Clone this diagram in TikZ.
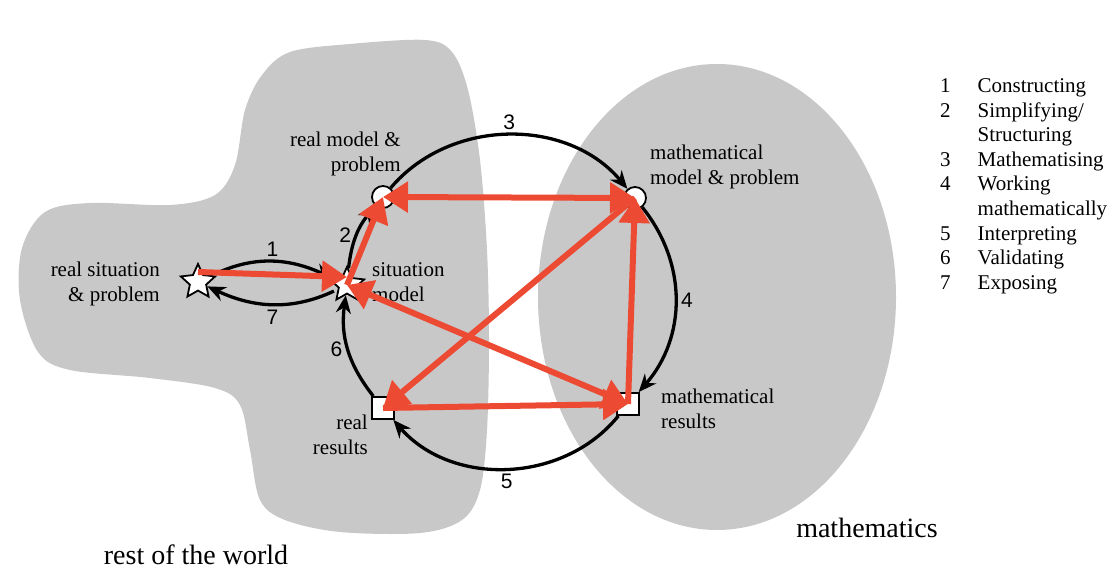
\documentclass[tikz,border=0pt]{standalone}
\usepackage{fontspec}
\setmainfont{Liberation Serif}
\newfontfamily\numfont{Liberation Sans}
\usepackage{tikz}
\usetikzlibrary{arrows.meta,positioning,shapes.geometric}
\definecolor{worldgray}{RGB}{200,200,200}
\definecolor{modelred}{RGB}{237,74,52}

\begin{document}
\begin{tikzpicture}[
            x=1pt, y=1pt,
            realstar/.style={
                star,
                star points=5,
                star point ratio=2.1,
                draw,
                fill=white,
                line width=1.8pt,
                minimum size=36pt,
                inner sep=0pt
            },
            modelcirc/.style={
                circle,
                draw,
                fill=white,
                line width=1.8pt,
                minimum size=22pt,
                inner sep=0pt
            },
            resultbox/.style={
                rectangle,
                draw,
                fill=white,
                line width=1.8pt,
                minimum size=22pt,
                inner sep=0pt
            },
            stagelabel/.style={
                font=\fontsize{21}{24.6}\selectfont,
                inner sep=0pt
            },
            worldlabel/.style={
                font=\fontsize{28}{32}\selectfont,
                inner sep=0pt
            },
            cyclearrow/.style={
                -{Stealth[length=18pt,width=15pt]},
                line width=3.3pt
            },
            steplabel/.style={
                font=\numfont\fontsize{21}{24}\selectfont,
                inner sep=4pt
            },
            redarrow/.style={
                draw=modelred,
                line width=6pt
            },
            redhead/.style={
                -{Triangle[length=25pt,width=30pt]}
            },
            redboth/.style={
                {Triangle[length=25pt,width=30pt]}-{Triangle[length=25pt,width=30pt]}
            }
            ]

            \useasboundingbox (0,0) rectangle (1114,569);

            % the two worlds
            \fill[worldgray] plot[smooth cycle, tension=0.55] coordinates {
                (262,494) (290,517) (350,525) (425,529) (452,517) (468,479)
                (480,409) (487,319) (489,229) (487,139) (480,79) (462,49)
                (420,36) (340,37) (285,49) (260,69) (250,119) (240,164)
                (215,181) (150,191) (70,199) (38,217) (20,269) (22,321)
                (45,357) (90,366) (170,364) (215,374) (235,404) (245,459)};
            \fill[worldgray] (717,272) ellipse[x radius=179pt, y radius=233pt];

            % stages
            \node[realstar] (realsit) at (198,287) {};
            \node[realstar] (sitmodel) at (347,284) {};
            \node[modelcirc] (realmodel) at (383,372) {};
            \node[modelcirc] (mathmodel) at (635,371) {};
            \node[resultbox] (realres) at (383,161) {};
            \node[resultbox] (mathres) at (628,165) {};

            \node[stagelabel, anchor=east, align=right] (realsitlbl) at (160,285)
            {real situation\\\& problem};
            \node[stagelabel, anchor=east, align=right] (realmodellbl) at (401,415)
            {real model \&\\problem};
            \node[stagelabel, anchor=west, align=left] (sitmodellbl) at (372,287)
            {situation\\model};
            \node[stagelabel, anchor=east, align=right] (realreslbl) at (368,134)
            {real\\results};
            \node[stagelabel, anchor=west, align=left] (mathmodellbl) at (650,402)
            {mathematical\\model \& problem};
            \node[stagelabel, anchor=west, align=left] (mathreslbl) at (661,160)
            {mathematical\\results};

            \node[worldlabel, anchor=base] (worldlbl) at (196,4) {rest of the world};
            \node[worldlabel, anchor=base] (mathslbl) at (867,31) {mathematics};

            % modelling cycle
            \draw[cyclearrow, shorten <=4pt] (realsit) to[out=25, in=155]
            node[steplabel, above] {1} (sitmodel);
            \draw[cyclearrow, shorten <=4pt] (sitmodel) to[out=205, in=-25]
            node[steplabel, below] {7} (realsit);
            \draw[cyclearrow] (sitmodel) to[bend left=17]
            node[steplabel, left] {2} (realmodel);
            \draw[cyclearrow] (realmodel) to[bend left=50]
            node[steplabel, above] {3} (mathmodel);
            \draw[cyclearrow] (mathmodel) to[bend left=40]
            node[steplabel, right] {4} (mathres);
            \draw[cyclearrow] (mathres) to[bend left=50]
            node[steplabel, below] {5} (realres);
            \draw[cyclearrow] (realres) to[bend left=23]
            node[steplabel, left] {6} (sitmodel);

            % red transitions
            \draw[redarrow, redhead] ([yshift=10]realsit.center) -- ([yshift=8]sitmodel.center);
            \draw[redarrow, redhead] (sitmodel.center) -- (realmodel.center);
            \draw[redarrow, redboth] (realmodel.center) -- (mathmodel.center);
            \draw[redarrow, redhead] (mathmodel.center) -- (realres.center);
            \draw[redarrow, redboth] (sitmodel.center) -- (mathres.center);
            \draw[redarrow, redhead] (mathres.center) -- (mathmodel.center);
            \draw[redarrow, redhead] (realres.center) -- (mathres.center);

            % legend
            \node[stagelabel, anchor=north west] (legend) at (940,494) {%
                \begin{tabular}{@{}l@{\hspace{27pt}}l@{}}
                    1 & Constructing\\
                    2 & Simplifying/\\
                      & Structuring\\
                    3 & Mathematising\\
                    4 & Working\\
                      & mathematically\\
                    5 & Interpreting\\
                    6 & Validating\\
                    7 & Exposing
            \end{tabular}};

        \end{tikzpicture}
\end{document}
